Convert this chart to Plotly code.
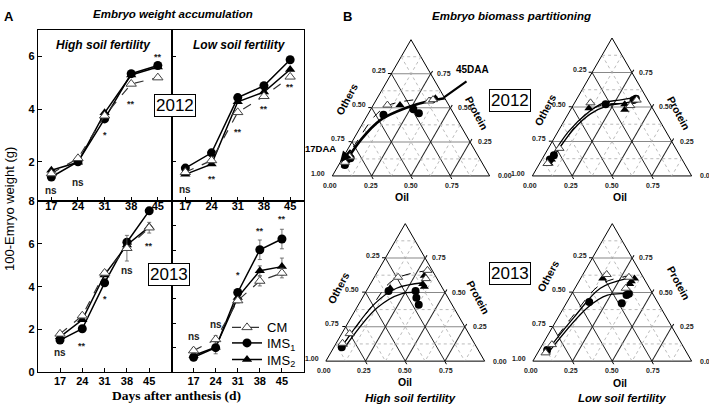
import math
import plotly.graph_objects as go

W, H = 709, 415
ARIAL = "Liberation Sans, Arial, sans-serif"
SERIF = "Liberation Serif, Times New Roman, serif"

# ---------------- Panel A data ----------------
days = [17, 24, 31, 38, 45]
day_ticks = ["17", "24", "31", "38", "45"]

hi12_cm = [1.55, 2.13, 3.75, 4.96, 5.20]
hi12_ims1 = [1.42, 2.00, 3.63, 5.35, 5.66]
hi12_ims2 = [1.68, 1.98, 3.86, 5.30, 5.60]
hi12_sig = ["ns", "ns", "*", "**", "**"]
hi12_sig_y = [0.90, 1.20, 3.00, 4.20, 6.00]

lo12_cm = [1.60, 2.05, 3.88, 4.49, 5.23]
lo12_ims1 = [1.76, 2.34, 4.44, 4.89, 5.88]
lo12_ims2 = [1.52, 1.91, 4.28, 4.65, 5.51]
lo12_sig = ["ns", "**", "**", "**", "**"]
lo12_sig_y = [0.94, 1.36, 3.15, 4.00, 4.86]

hi13_cm = [1.79, 2.64, 4.64, 5.80, 6.76]
hi13_ims1 = [1.50, 2.03, 4.18, 6.08, 7.55]
hi13_ims2 = [1.65, 2.45, 4.55, 5.95, 6.80]
hi13_cm_err = [0.05, 0.10, 0.10, 0.60, 0.25]
hi13_sig = ["ns", "**", "*", "ns", "**"]
hi13_sig_y = [0.92, 1.23, 3.42, 4.74, 5.90]

lo13_cm = [0.88, 1.34, 2.93, 3.73, 4.06]
lo13_ims1 = [0.61, 1.00, 3.26, 5.01, 5.45]
lo13_ims2 = [0.68, 1.02, 3.06, 4.15, 4.32]
lo13_cm_err = [0.10, 0.15, 0.10, 0.20, 0.20]
lo13_ims1_err = [0.05, 0.25, 0.10, 0.40, 0.40]
lo13_ims2_err = [0.05, 0.10, 0.10, 0.20, 0.35]
lo13_sig = ["ns", "ns", "*", "**", "**"]
lo13_sig_y = [1.47, 1.94, 3.97, 5.76, 6.27]

# ---------------- Panel B data (Protein, Oil, Others fractions) ----------------
t12hi_cm_p = [0.10, 0.14, 0.52, 0.55, 0.56]
t12hi_cm_o = [0.03, 0.04, 0.09, 0.34, 0.36]
t12hi_cm_x = [0.87, 0.82, 0.39, 0.11, 0.08]
t12hi_i1_p = [0.08, 0.13, 0.45, 0.49, 0.46]
t12hi_i1_o = [0.04, 0.05, 0.10, 0.27, 0.32]
t12hi_i1_x = [0.88, 0.82, 0.45, 0.24, 0.22]
t12hi_i2_p = [0.11, 0.15, 0.52, 0.55, 0.57]
t12hi_i2_o = [0.03, 0.04, 0.17, 0.35, 0.37]
t12hi_i2_x = [0.86, 0.81, 0.31, 0.10, 0.06]
t12hi_fit_p = [0.06, 0.27, 0.41, 0.50, 0.55, 0.57]
t12hi_fit_o = [0.03, 0.05, 0.10, 0.22, 0.34, 0.43]
t12hi_fit_x = [0.91, 0.68, 0.49, 0.28, 0.11, 0.00]
t12hi_dash_p = [0.10, 0.25, 0.44, 0.52, 0.56]
t12hi_dash_o = [0.02, 0.03, 0.05, 0.10, 0.25]
t12hi_dash_x = [0.88, 0.72, 0.51, 0.38, 0.19]

t12lo_cm_p = [0.09, 0.20, 0.53, 0.51, 0.55]
t12lo_cm_o = [0.05, 0.07, 0.10, 0.36, 0.38]
t12lo_cm_x = [0.86, 0.73, 0.37, 0.13, 0.07]
t12lo_i1_p = [0.12, 0.15, 0.52, 0.55, 0.56]
t12lo_i1_o = [0.05, 0.06, 0.20, 0.36, 0.37]
t12lo_i1_x = [0.83, 0.79, 0.28, 0.09, 0.07]
t12lo_i2_p = [0.09, 0.12, 0.49, 0.52, 0.48]
t12lo_i2_o = [0.06, 0.06, 0.11, 0.32, 0.34]
t12lo_i2_x = [0.85, 0.82, 0.40, 0.16, 0.18]
t12lo_fit1_p = [0.11, 0.32, 0.46, 0.53, 0.55, 0.57]
t12lo_fit1_o = [0.05, 0.065, 0.12, 0.18, 0.27, 0.37]
t12lo_fit1_x = [0.84, 0.615, 0.42, 0.29, 0.18, 0.06]
t12lo_fit2_p = [0.09, 0.34, 0.45, 0.51, 0.53, 0.55]
t12lo_fit2_o = [0.06, 0.09, 0.14, 0.22, 0.32, 0.38]
t12lo_fit2_x = [0.85, 0.57, 0.41, 0.27, 0.15, 0.07]
t12lo_dash_p = [0.09, 0.22, 0.37, 0.47, 0.52, 0.52]
t12lo_dash_o = [0.05, 0.07, 0.09, 0.12, 0.20, 0.34]
t12lo_dash_x = [0.86, 0.71, 0.54, 0.41, 0.28, 0.14]

t13hi_cm_p = [0.13, 0.20, 0.61, 0.66, 0.60]
t13hi_cm_o = [0.04, 0.05, 0.15, 0.31, 0.33]
t13hi_cm_x = [0.83, 0.75, 0.24, 0.03, 0.07]
t13hi_i1_p = [0.10, 0.51, 0.51, 0.46, 0.41]
t13hi_i1_o = [0.05, 0.14, 0.31, 0.34, 0.38]
t13hi_i1_x = [0.85, 0.35, 0.18, 0.20, 0.21]
t13hi_i2_p = [0.12, 0.53, 0.62, 0.54, 0.56]
t13hi_i2_o = [0.05, 0.14, 0.31, 0.35, 0.33]
t13hi_i2_x = [0.83, 0.33, 0.07, 0.11, 0.11]
t13hi_fit1_p = [0.13, 0.42, 0.53, 0.57]
t13hi_fit1_o = [0.05, 0.10, 0.18, 0.33]
t13hi_fit1_x = [0.82, 0.48, 0.29, 0.10]
t13hi_fit2_p = [0.11, 0.39, 0.49, 0.50]
t13hi_fit2_o = [0.07, 0.13, 0.23, 0.34]
t13hi_fit2_x = [0.82, 0.48, 0.28, 0.16]
t13hi_dash_p = [0.13, 0.40, 0.59, 0.66]
t13hi_dash_o = [0.05, 0.09, 0.13, 0.32]
t13hi_dash_x = [0.82, 0.51, 0.28, 0.02]

t13lo_cm_p = [0.06, 0.12, 0.63, 0.61, 0.53]
t13lo_cm_o = [0.05, 0.06, 0.15, 0.30, 0.32]
t13lo_cm_x = [0.89, 0.82, 0.22, 0.09, 0.15]
t13lo_i1_p = [0.08, 0.43, 0.48, 0.49, 0.42]
t13lo_i1_o = [0.05, 0.14, 0.35, 0.36, 0.35]
t13lo_i1_x = [0.87, 0.43, 0.17, 0.15, 0.23]
t13lo_i2_p = [0.07, 0.60, 0.60, 0.58, 0.56]
t13lo_i2_o = [0.05, 0.14, 0.34, 0.33, 0.33]
t13lo_i2_x = [0.88, 0.26, 0.06, 0.09, 0.11]
t13lo_fit1_p = [0.09, 0.32, 0.53, 0.60]
t13lo_fit1_o = [0.055, 0.10, 0.16, 0.29]
t13lo_fit1_x = [0.855, 0.58, 0.31, 0.11]
t13lo_fit2_p = [0.08, 0.39, 0.48, 0.49]
t13lo_fit2_o = [0.07, 0.15, 0.23, 0.35]
t13lo_fit2_x = [0.85, 0.46, 0.29, 0.16]
t13lo_dash_p = [0.08, 0.34, 0.56, 0.62]
t13lo_dash_o = [0.05, 0.09, 0.15, 0.30]
t13lo_dash_x = [0.87, 0.57, 0.29, 0.08]

tern_ticks = [0.0, 0.25, 0.5, 0.75]
minor_levels = [0.125, 0.375, 0.625, 0.875]

# ---------------- figure ----------------
fig = go.Figure()

CM_STYLE = dict(line=dict(color="#333333", width=1.2, dash="dash"),
                marker=dict(symbol="triangle-up", size=9, color="white",
                            line=dict(color="#444444", width=1)))
I1_STYLE = dict(line=dict(color="black", width=1.5),
                marker=dict(symbol="circle", size=9, color="black"))
I2_STYLE = dict(line=dict(color="black", width=1.5),
                marker=dict(symbol="triangle-up", size=9, color="black"))


def err(vals):
    if vals is None:
        return None
    return dict(type="data", array=vals, visible=True, color="#555555",
                thickness=0.8, width=2)


def add_panel(xa, ya, cm, i1, i2, legend=False, cm_e=None, i1_e=None, i2_e=None):
    fig.add_trace(go.Scatter(x=days, y=i2, xaxis=xa, yaxis=ya, mode="lines+markers",
                             name="IMS<sub>2</sub>", showlegend=legend, legend="legend3",
                             error_y=err(i2_e), **I2_STYLE))
    fig.add_trace(go.Scatter(x=days, y=i1, xaxis=xa, yaxis=ya, mode="lines+markers",
                             name="IMS<sub>1</sub>", showlegend=legend, legend="legend2",
                             error_y=err(i1_e), **I1_STYLE))
    fig.add_trace(go.Scatter(x=days, y=cm, xaxis=xa, yaxis=ya, mode="lines+markers",
                             name="CM", showlegend=legend, legend="legend",
                             error_y=err(cm_e), **CM_STYLE))


add_panel("x", "y", hi12_cm, hi12_ims1, hi12_ims2)
add_panel("x2", "y2", lo12_cm, lo12_ims1, lo12_ims2)
add_panel("x3", "y3", hi13_cm, hi13_ims1, hi13_ims2, cm_e=hi13_cm_err)
add_panel("x4", "y4", lo13_cm, lo13_ims1, lo13_ims2, legend=True,
          cm_e=lo13_cm_err, i1_e=lo13_ims1_err, i2_e=lo13_ims2_err)

# panel A geometry (pixels)
XL, XM, XR = 37.7, 171.5, 304.0
YT, YM, YB = 25.0, 201.0, 377.0
fx = lambda px: px / W
fy = lambda py: 1 - py / H

axis_common = dict(showline=True, linecolor="black", linewidth=1, mirror=True,
                   ticks="inside", ticklen=4, tickcolor="black", showgrid=False,
                   zeroline=False, fixedrange=True,
                   tickfont=dict(family=ARIAL, size=11, color="black", weight="bold"))
xt = dict(tickmode="array", tickvals=days, ticktext=day_ticks)

fig.update_layout(
    xaxis=dict(domain=[fx(XL), fx(XM)], range=[13.4, 48.6], anchor="y",
               ticklabelstandoff=-5, **xt, **axis_common),
    yaxis=dict(domain=[fy(YM), fy(YT)], range=[0.5, 7], anchor="x", dtick=2, **axis_common),
    xaxis2=dict(domain=[fx(XM), fx(XR)], range=[13.3, 48.7], anchor="y2",
                ticklabelstandoff=-5, **xt, **axis_common),
    yaxis2=dict(domain=[fy(YM), fy(YT)], range=[0.5, 7], anchor="x2", dtick=2,
                showticklabels=False, **axis_common),
    xaxis3=dict(domain=[fx(XL), fx(XM)], range=[10, 52], anchor="y3",
                ticklabelstandoff=-1, **xt, **axis_common),
    yaxis3=dict(domain=[fy(YB), fy(YM)], range=[0, 8.001], anchor="x3",
                tickmode="array", tickvals=[0, 2, 4, 6, 8], **axis_common),
    xaxis4=dict(domain=[fx(XM), fx(XR)], range=[10, 52], anchor="y4",
                ticklabelstandoff=-1, **xt, **axis_common),
    yaxis4=dict(domain=[fy(YB), fy(YM)], range=[0, 7], anchor="x4", dtick=1,
                showticklabels=False, **axis_common),
)

annotations = []


def txt(px, py, text, size=11, bold=False, italic=False, family=ARIAL, angle=0,
        xanchor="center", yanchor="middle", color="black", **extra):
    d = dict(x=fx(px), y=fy(py), xref="paper", yref="paper", text=text,
             showarrow=False, textangle=angle, xanchor=xanchor, yanchor=yanchor,
             font=dict(family=family, size=size, color=color,
                       weight="bold" if bold else "normal",
                       style="italic" if italic else "normal"))
    d.update(extra)
    annotations.append(d)


# significance labels
for xa, ya, sig, sy in [("x", "y", hi12_sig, hi12_sig_y), ("x2", "y2", lo12_sig, lo12_sig_y),
                        ("x3", "y3", hi13_sig, hi13_sig_y), ("x4", "y4", lo13_sig, lo13_sig_y)]:
    for d, s, yv in zip(days, sig, sy):
        annotations.append(dict(x=d, y=yv, xref=xa, yref=ya, text=s, showarrow=False,
                                xanchor="center", yanchor="middle",
                                font=dict(family=ARIAL, size=10 if s == "ns" else 9,
                                          color="#222222", weight="bold")))

# Panel A texts
txt(9, 11, "A", size=13, bold=True)
txt(173, 8, "Embryo weight accumulation", size=11.5, bold=True, italic=True)
txt(103, 40, "High soil fertility", size=12, bold=True, italic=True)
txt(240, 40, "Low soil fertility", size=12, bold=True, italic=True)
txt(10, 209, "100-Emryo weight (g)", size=13, angle=-90)
txt(176, 401, "Days after anthesis (d)", size=13.5, bold=True, family=SERIF)

for px, py, t in [(175, 102, "2012"), (169, 277, "2013"), (510, 97, "2012"), (509.5, 275, "2013")]:
    txt(px, py, t, size=17, bgcolor="white", bordercolor="black", borderwidth=1, borderpad=1)

# ---------------- Panel B: ternaries ----------------
ternaries = [
    ("ternary", 330.0, 492.0, 175.0),
    ("ternary2", 530.0, 694.0, 175.0),
    ("ternary3", 323.5, 487.0, 365.7),
    ("ternary4", 530.5, 694.0, 365.7),
]

tern_data = {
    "ternary": dict(cm=(t12hi_cm_p, t12hi_cm_x, t12hi_cm_o),
                    i1=(t12hi_i1_p, t12hi_i1_x, t12hi_i1_o),
                    i2=(t12hi_i2_p, t12hi_i2_x, t12hi_i2_o),
                    fits=[(t12hi_fit_p, t12hi_fit_x, t12hi_fit_o, 2.6, "solid"),
                          (t12hi_dash_p, t12hi_dash_x, t12hi_dash_o, 1.0, "dash")]),
    "ternary2": dict(cm=(t12lo_cm_p, t12lo_cm_x, t12lo_cm_o),
                     i1=(t12lo_i1_p, t12lo_i1_x, t12lo_i1_o),
                     i2=(t12lo_i2_p, t12lo_i2_x, t12lo_i2_o),
                     fits=[(t12lo_fit1_p, t12lo_fit1_x, t12lo_fit1_o, 1.3, "solid"),
                           (t12lo_fit2_p, t12lo_fit2_x, t12lo_fit2_o, 1.3, "solid"),
                           (t12lo_dash_p, t12lo_dash_x, t12lo_dash_o, 1.0, "dash")]),
    "ternary3": dict(cm=(t13hi_cm_p, t13hi_cm_x, t13hi_cm_o),
                     i1=(t13hi_i1_p, t13hi_i1_x, t13hi_i1_o),
                     i2=(t13hi_i2_p, t13hi_i2_x, t13hi_i2_o),
                     fits=[(t13hi_fit1_p, t13hi_fit1_x, t13hi_fit1_o, 1.3, "solid"),
                           (t13hi_fit2_p, t13hi_fit2_x, t13hi_fit2_o, 1.3, "solid"),
                           (t13hi_dash_p, t13hi_dash_x, t13hi_dash_o, 1.0, "dash")]),
    "ternary4": dict(cm=(t13lo_cm_p, t13lo_cm_x, t13lo_cm_o),
                     i1=(t13lo_i1_p, t13lo_i1_x, t13lo_i1_o),
                     i2=(t13lo_i2_p, t13lo_i2_x, t13lo_i2_o),
                     fits=[(t13lo_fit1_p, t13lo_fit1_x, t13lo_fit1_o, 1.3, "solid"),
                           (t13lo_fit2_p, t13lo_fit2_x, t13lo_fit2_o, 1.3, "solid"),
                           (t13lo_dash_p, t13lo_dash_x, t13lo_dash_o, 1.0, "dash")]),
}

for name, xl, xr, yb in ternaries:
    wt = xr - xl
    ht = wt * math.sqrt(3) / 2
    tax = dict(showticklabels=False, ticks="outside", ticklen=3, tickcolor="black",
               linecolor="black", linewidth=1, showgrid=True, gridwidth=0.8,
               tickmode="array", tickvals=[0.25, 0.5, 0.75], title=dict(text=""),
               min=0, layer="below traces")
    fig.update_layout({name: dict(
        domain=dict(x=[fx(xl), fx(xr)], y=[fy(yb), fy(yb - ht)]), sum=1, bgcolor="white",
        aaxis=dict(gridcolor="#888888", **tax),
        baxis=dict(gridcolor="#222222", **tax),
        caxis=dict(gridcolor="#222222", **tax))})

    # dotted minor grid
    ma, mb, mc = [], [], []
    for v in minor_levels:
        ma += [v, v, None, 1 - v, 0, None, 1 - v, 0, None]
        mb += [1 - v, 0, None, v, v, None, 0, 1 - v, None]
        mc += [0, 1 - v, None, 0, 1 - v, None, v, v, None]
    fig.add_trace(go.Scatterternary(a=ma, b=mb, c=mc, subplot=name, mode="lines",
                                    line=dict(color="#aaaaaa", width=0.8, dash="dot"),
                                    hoverinfo="skip", showlegend=False, connectgaps=False))

    d = tern_data[name]
    for p, x, o, wdt, dash in d["fits"]:
        fig.add_trace(go.Scatterternary(a=p, b=x, c=o, subplot=name, mode="lines",
                                        line=dict(color="black", width=wdt, dash=dash,
                                                  shape="spline"),
                                        hoverinfo="skip", showlegend=False))
    for key, style in [("i1", I1_STYLE), ("i2", I2_STYLE), ("cm", CM_STYLE)]:
        p, x, o = d[key]
        mk = dict(style["marker"])
        mk["size"] = 8
        fig.add_trace(go.Scatterternary(a=p, b=x, c=o, subplot=name, mode="markers",
                                        marker=mk, showlegend=False))

    # tick labels (Others on left, Protein on right, Oil on bottom)
    for pv in tern_ticks[::-1]:
        py = yb - ht * pv
        txt(xl + wt * pv / 2 - 3, py - 3, "%.2f" % (1 - pv), size=7, bold=True,
            xanchor="right", color="#222222")
        txt(xr - wt * pv / 2 + 4, py, "%.2f" % pv, size=7, bold=True,
            xanchor="left", color="#222222")
    for cv in tern_ticks:
        txt(xl + wt * cv, yb + 10, "%.2f" % cv, size=7, bold=True, color="#222222")

# axis names for ternaries
for (ox, oy), (px_, py_), (ax_, ay_) in [
    ((401.7, 197), (477, 110), (347, 96)),
    ((620, 197), (679, 110), (545, 107)),
    ((405, 387), (478, 300), (338, 290)),
    ((620, 388), (679, 285), (548, 278)),
]:
    txt(ox, oy, "Oil", size=10.5, bold=True)
    txt(px_, py_, "Protein", size=10.5, bold=True, angle=62)
    txt(ax_, ay_, "Others", size=10.5, bold=True, angle=-62)

txt(347, 11, "B", size=13, bold=True)
txt(511, 10, "Embryo biomass partitioning", size=11.5, bold=True, italic=True)
txt(410, 404, "High soil fertility", size=11.5, bold=True, italic=True)
txt(622, 404, "Low soil fertility", size=11.5, bold=True, italic=True)
txt(472, 65, "45DAA", size=10, bold=True)
txt(320, 147, "17DAA", size=9.5, bold=True)

# arrow extension toward 45DAA label and arrow head at 17DAA
annotations.append(dict(x=fx(444), y=fy(94), xref="paper", yref="paper", text="",
                        showarrow=True, arrowhead=0, arrowwidth=2.2, arrowcolor="black",
                        ax=24, ay=-17, axref="pixel", ayref="pixel"))
annotations.append(dict(x=fx(340), y=fy(161), xref="paper", yref="paper", text="",
                        showarrow=True, arrowhead=2, arrowsize=1, arrowwidth=2.2,
                        arrowcolor="black", ax=12, ay=-14, axref="pixel", ayref="pixel"))

leg_common = dict(xanchor="left", yanchor="middle", bgcolor="rgba(0,0,0,0)",
                  font=dict(family=ARIAL, size=13, color="black"), itemwidth=30,
                  tracegroupgap=0)

fig.update_layout(
    annotations=annotations,
    width=W, height=H,
    margin=dict(l=0, r=0, t=0, b=0),
    paper_bgcolor="white", plot_bgcolor="white",
    showlegend=True,
    legend=dict(x=fx(227), y=fy(331), **leg_common),
    legend2=dict(x=fx(227), y=fy(347), **leg_common),
    legend3=dict(x=fx(227), y=fy(364), **leg_common),
    font=dict(family=ARIAL),
)

fig.write_html("out.html", post_script="document.body.style.margin='0';",
               config={"displayModeBar": False})
